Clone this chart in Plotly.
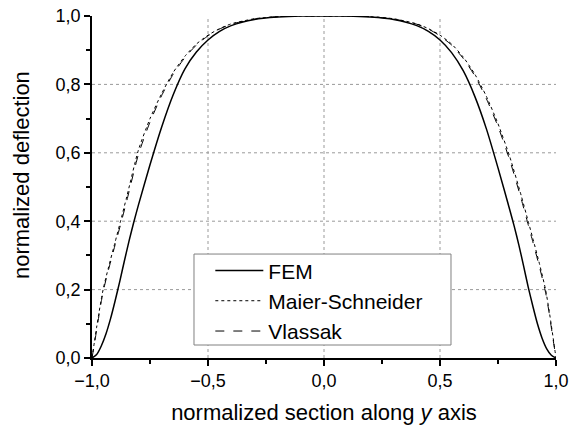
import plotly.graph_objects as go

# normalized section along y axis / normalized deflection
x_fem = [-1.0, -0.98, -0.96, -0.94, -0.92, -0.9, -0.88, -0.86, -0.84, -0.82, -0.8, -0.75, -0.7,
         -0.65, -0.6, -0.55, -0.5, -0.45, -0.4, -0.3, -0.2, -0.1, 0.0, 0.1, 0.2, 0.3, 0.4, 0.45,
         0.5, 0.55, 0.6, 0.65, 0.7, 0.75, 0.8, 0.82, 0.84, 0.86, 0.88, 0.9, 0.92, 0.94, 0.96, 0.98, 1.0]
y_fem = [0.0, 0.01, 0.035, 0.07, 0.115, 0.168, 0.225, 0.285, 0.343, 0.397, 0.447, 0.565, 0.675,
         0.77, 0.845, 0.895, 0.93, 0.955, 0.972, 0.99, 0.997, 1.0, 1.0, 1.0, 0.997, 0.99, 0.972, 0.955,
         0.93, 0.893, 0.84, 0.765, 0.67, 0.556, 0.435, 0.385, 0.33, 0.27, 0.208, 0.152, 0.1, 0.058, 0.027, 0.008, 0.0]

x_ms = [-1.0, -0.99, -0.98, -0.97, -0.96, -0.95, -0.93, -0.9, -0.877, -0.85, -0.8, -0.75, -0.7,
        -0.65, -0.6, -0.55, -0.5, -0.45, -0.4, -0.3, -0.2, -0.1, 0.0, 0.1, 0.2, 0.3, 0.4, 0.45,
        0.5, 0.55, 0.6, 0.65, 0.7, 0.75, 0.8, 0.85, 0.88, 0.9, 0.93, 0.955, 0.97, 0.98, 0.99, 1.0]
y_ms = [0.0, 0.045, 0.09, 0.132, 0.172, 0.207, 0.262, 0.34, 0.4, 0.472, 0.608, 0.70, 0.773,
        0.835, 0.882, 0.918, 0.944, 0.963, 0.977, 0.992, 0.998, 1.0, 1.0, 1.0, 0.998, 0.992, 0.977, 0.963,
        0.944, 0.918, 0.88, 0.83, 0.765, 0.685, 0.59, 0.475, 0.4, 0.35, 0.272, 0.2, 0.14, 0.095, 0.048, 0.0]

x_vl = x_ms
y_vl = [0.0, 0.04, 0.082, 0.124, 0.165, 0.2, 0.255, 0.332, 0.39, 0.46, 0.595, 0.69, 0.767,
        0.83, 0.878, 0.915, 0.942, 0.962, 0.976, 0.991, 0.998, 1.0, 1.0, 1.0, 0.998, 0.991, 0.976, 0.962,
        0.942, 0.915, 0.876, 0.825, 0.758, 0.677, 0.58, 0.465, 0.39, 0.34, 0.263, 0.192, 0.134, 0.088, 0.043, 0.0]

x_tickvals = [-1.0, -0.5, 0.0, 0.5, 1.0]
y_tickvals = [0.0, 0.2, 0.4, 0.6, 0.8, 1.0]
x_grid = [-0.5, 0.0, 0.5]
y_grid = [0.2, 0.4, 0.6, 0.8]

FONT = "Liberation Sans, Arial, sans-serif"

fig = go.Figure()
fig.add_trace(go.Scatter(x=x_fem, y=y_fem, mode="lines", name="FEM",
                         line=dict(color="black", width=1.5, shape="spline", smoothing=0.6)))
fig.add_trace(go.Scatter(x=x_ms, y=y_ms, mode="lines", name="Maier-Schneider",
                         line=dict(color="black", width=1, dash="dot", shape="spline", smoothing=0.6)))
fig.add_trace(go.Scatter(x=x_vl, y=y_vl, mode="lines", name="Vlassak",
                         line=dict(color="black", width=1, dash="dash", shape="spline", smoothing=0.6)))

shapes = []
for gx in x_grid:
    shapes.append(dict(type="line", xref="x", yref="paper", x0=gx, x1=gx, y0=0, y1=1,
                       line=dict(color="#9a9a9a", width=1, dash="dot"), layer="below"))
for gy in y_grid:
    shapes.append(dict(type="line", xref="paper", yref="y", x0=0, x1=1, y0=gy, y1=gy,
                       line=dict(color="#9a9a9a", width=1, dash="dot"), layer="below"))
# legend frame
shapes.append(dict(type="rect", xref="paper", yref="paper", x0=0.2198, x1=0.7737, y0=0.038, y1=0.304,
                   line=dict(color="#808080", width=1), fillcolor="white", layer="below"))

fig.update_layout(
    width=570, height=425,
    margin=dict(l=92, r=14, t=16, b=67),
    paper_bgcolor="white", plot_bgcolor="white",
    separators=",.",
    font=dict(family=FONT, color="black", size=18),
    showlegend=True,
    legend=dict(x=0.255, y=0.315, xanchor="left", yanchor="top",
                borderwidth=0, bgcolor="rgba(0,0,0,0)",
                font=dict(size=21, family=FONT), itemwidth=48, tracegroupgap=0),
    shapes=shapes,
    annotations=[dict(text="normalized deflection", xref="paper", yref="paper",
                      x=-0.153, y=0.535, xanchor="center", yanchor="middle", textangle=-90,
                      showarrow=False, font=dict(size=22, family=FONT))],
    xaxis=dict(range=[-1, 1], tickvals=x_tickvals, tickformat=".1f", automargin=False,
               showgrid=False, zeroline=False, showline=True, linecolor="black", linewidth=1.5,
               ticks="outside", ticklen=6, tickwidth=1.5, tickcolor="black",
               minor=dict(ticks="outside", ticklen=4, tickwidth=1.5, tickcolor="black", dtick=0.25, showgrid=False),
               tickfont=dict(size=18),
               title=dict(text="normalized section along <i>y</i> axis", font=dict(size=22), standoff=16)),
    yaxis=dict(range=[0, 1], tickvals=y_tickvals, tickformat=".1f", automargin=False,
               showgrid=False, zeroline=False, showline=True, linecolor="black", linewidth=1.5,
               ticks="outside", ticklen=6, tickwidth=1.5, tickcolor="black",
               minor=dict(ticks="outside", ticklen=4, tickwidth=1.5, tickcolor="black", dtick=0.1, showgrid=False),
               tickfont=dict(size=18)),
)

fig.write_html("out.html", config={"displayModeBar": False},
               post_script="document.body.style.margin='0';document.body.style.overflow='hidden';")
